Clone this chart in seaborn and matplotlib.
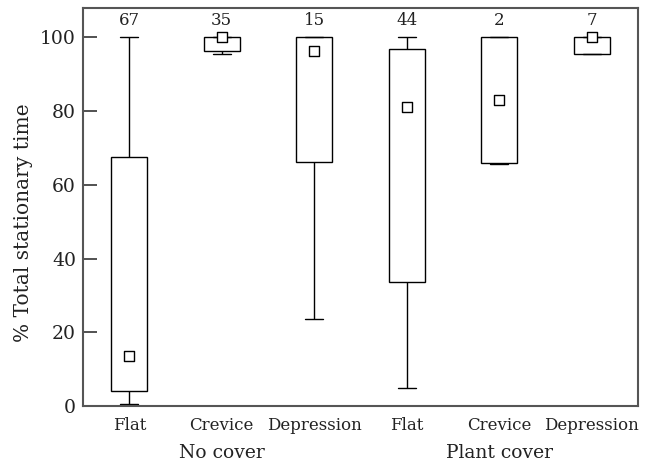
import numpy as np
import pandas as pd
import matplotlib
matplotlib.use("Agg")
import matplotlib.pyplot as plt
import matplotlib.transforms as mtransforms
import seaborn as sns

# ---- data ----
substrate = ["Flat", "Crevice", "Depression", "Flat", "Crevice", "Depression"]
cover = ["No cover", "No cover", "No cover", "Plant cover", "Plant cover", "Plant cover"]
whisker_low = [0.5, 95.5, 23.5, 5.0, 65.7, 95.5]
q1 = [4.2, 96.4, 66.1, 33.6, 66.0, 95.5]
center = [13.6, 100.0, 96.3, 81.0, 83.0, 100.0]   # square markers
q3 = [67.5, 100.0, 100.0, 96.8, 100.0, 100.0]
whisker_high = [100.0, 100.0, 100.0, 100.0, 100.0, 100.0]
n_obs = [67, 35, 15, 44, 2, 7]
group_labels = ["No cover", "Plant cover"]
yticks = [0, 20, 40, 60, 80, 100]

slots = [f"{c}|{s}" for c, s in zip(cover, substrate)]

# five summary values per group -> min, q1, median, q3, max reproduced exactly
rows = []
for sl, a, b, c, d, e in zip(slots, whisker_low, q1, center, q3, whisker_high):
    for v in (a, b, c, d, e):
        rows.append({"slot": sl, "value": v})
df = pd.DataFrame(rows)
sq = pd.DataFrame({"slot": slots, "value": center})

sns.set_style("ticks")
plt.rcParams["font.family"] = ["DejaVu Serif", "Liberation Serif"]

fig = plt.figure(figsize=(6.58, 4.66), dpi=100)
ax = fig.add_axes([83 / 658, 1 - 406 / 466, (638 - 83) / 658, (406 - 8) / 466])

sns.boxplot(data=df, x="slot", y="value", order=slots, whis=(0, 100),
            width=0.39, color="white", linecolor="black", linewidth=1.0,
            showfliers=False, medianprops=dict(linewidth=0, color="none"),
            ax=ax)
sns.scatterplot(data=sq, x="slot", y="value", marker="s", s=45,
                color="white", edgecolor="black", linewidth=1.0,
                zorder=5, ax=ax, legend=False)

for i, n in enumerate(n_obs):
    ax.text(i, 104.6, str(n), ha="center", va="center", fontsize=12,
            color="#222222")

ax.set_ylim(0, 108)
ax.set_xlim(-0.5, len(slots) - 0.5)
ax.set_yticks(yticks)
ax.set_xticks(range(len(slots)))
ax.set_xticklabels(substrate, fontsize=12, color="#222222")
ax.tick_params(axis="y", direction="in", length=10, width=1.2, labelsize=13.5,
               pad=5, color="#333333", labelcolor="#222222")
ax.tick_params(axis="x", length=0, pad=8)
ax.set_xlabel("")
ax.set_ylabel("% Total stationary time", fontsize=14.5, color="#222222")
ax.yaxis.set_label_coords(-0.09, 0.46)

for sp in ax.spines.values():
    sp.set_visible(True)
    sp.set_color("#555555")
    sp.set_linewidth(1.5)

trans = mtransforms.blended_transform_factory(ax.transData, ax.transAxes)
for j, g in enumerate(group_labels):
    ax.text(1 + 3 * j, -0.118, g, transform=trans, ha="center", va="center",
            fontsize=13.5, color="#222222")

fig.savefig("out.png", dpi=100)
